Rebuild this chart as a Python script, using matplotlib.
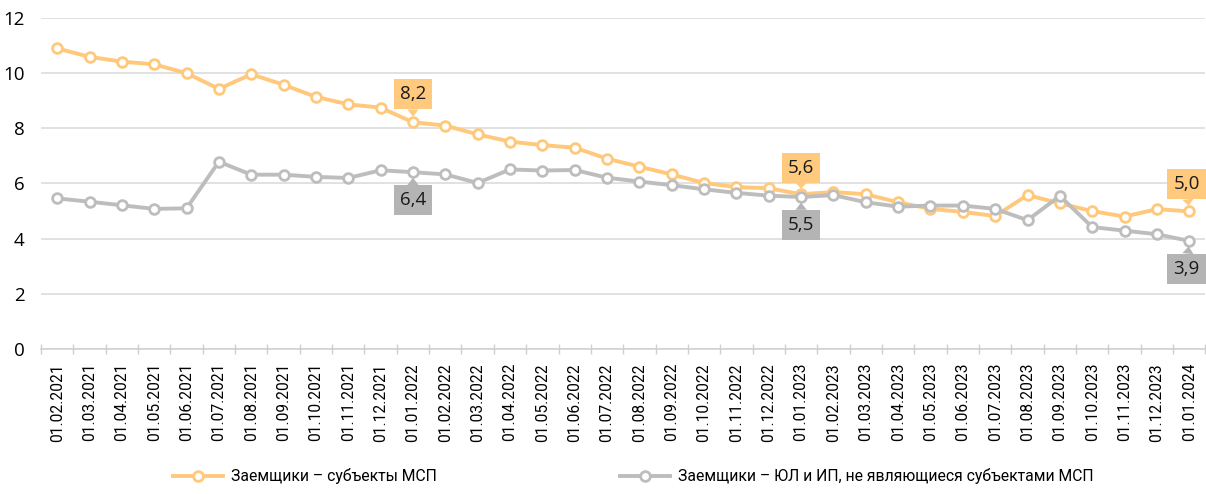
import matplotlib
matplotlib.use("Agg")
import matplotlib.pyplot as plt
import numpy as np

dates = ["01.02.2021", "01.03.2021", "01.04.2021", "01.05.2021", "01.06.2021", "01.07.2021",
         "01.08.2021", "01.09.2021", "01.10.2021", "01.11.2021", "01.12.2021", "01.01.2022",
         "01.02.2022", "01.03.2022", "01.04.2022", "01.05.2022", "01.06.2022", "01.07.2022",
         "01.08.2022", "01.09.2022", "01.10.2022", "01.11.2022", "01.12.2022", "01.01.2023",
         "01.02.2023", "01.03.2023", "01.04.2023", "01.05.2023", "01.06.2023", "01.07.2023",
         "01.08.2023", "01.09.2023", "01.10.2023", "01.11.2023", "01.12.2023", "01.01.2024"]

msp = [10.90, 10.59, 10.42, 10.32, 10.00, 9.43, 9.96, 9.58, 9.14, 8.87, 8.75, 8.22,
       8.10, 7.78, 7.52, 7.39, 7.30, 6.90, 6.61, 6.33, 6.02, 5.87, 5.83, 5.61,
       5.69, 5.61, 5.32, 5.08, 4.97, 4.82, 5.58, 5.28, 5.00, 4.80, 5.07, 4.99]

non_msp = [5.46, 5.34, 5.21, 5.08, 5.10, 6.79, 6.32, 6.32, 6.24, 6.20, 6.48, 6.41,
           6.33, 6.02, 6.51, 6.47, 6.49, 6.21, 6.07, 5.94, 5.79, 5.66, 5.56, 5.51,
           5.58, 5.32, 5.16, 5.20, 5.20, 5.08, 4.67, 5.55, 4.42, 4.29, 4.16, 3.92]

series_names = ["Заемщики – субъекты МСП", "Заемщики – ЮЛ и ИП, не являющиеся субъектами МСП"]
label_idx = [11, 23, 35]
msp_labels = ["8,2", "5,6", "5,0"]
non_labels = ["6,4", "5,5", "3,9"]
yticks = [0, 2, 4, 6, 8, 10, 12]

c_or = "#FFC87A"
c_gr = "#BDBDBD"
c_box_or = "#FFC97E"
c_box_gr = "#B4B4B4"

fig = plt.figure(figsize=(12.06, 4.94), dpi=100)
ax = fig.add_axes([41/1206, 1-349/494, 1-41/1206 - 0.0005, (349-18)/494])

x = np.arange(len(dates))
ax.plot(x, msp, color=c_or, lw=2.8, marker="o", ms=7, mfc="white", mec=c_or, mew=2.0,
        label=series_names[0], zorder=3)
ax.plot(x, non_msp, color=c_gr, lw=2.8, marker="o", ms=7, mfc="white", mec=c_gr, mew=2.0,
        label=series_names[1], zorder=3)

ax.set_xlim(-0.5, len(dates) - 0.5)
ax.set_ylim(0, 12)
ax.set_yticks(yticks)
ax.set_yticklabels([str(v) for v in yticks], fontsize=13.5, family="Open Sans")
ax.yaxis.grid(True, color="#D9D9D9", lw=1.1)
ax.set_axisbelow(True)
ax.tick_params(axis="y", length=0, pad=12)

ax.set_xticks(x)
ax.set_xticklabels(dates, rotation=90, fontsize=11.2, family="Roboto")
ax.set_xticks(np.arange(-0.5, len(dates), 1), minor=True)
ax.tick_params(axis="x", which="major", length=0, pad=10)
ax.tick_params(axis="x", which="minor", length=7, direction="inout", color="#CFCFCF", width=1)

for s in ["top", "right", "left"]:
    ax.spines[s].set_visible(False)
ax.spines["bottom"].set_color("#CFCFCF")
ax.spines["bottom"].set_linewidth(1.1)

offsets_up = [(0, 20), (0, 19), (-2, 19.5)]
offsets_dn = [(0, -20), (0, -20), (-2, -20)]
for i, (idx, lab) in enumerate(zip(label_idx, msp_labels)):
    ax.annotate(lab, xy=(idx, msp[idx]), xytext=offsets_up[i], textcoords="offset points",
                ha="center", va="center", fontsize=13.5, family="Open Sans", color="#1a1a1a",
                bbox=dict(boxstyle="square,pad=0.32", fc=c_box_or, ec="none"),
                arrowprops=dict(arrowstyle="wedge,tail_width=0.6", fc=c_box_or, ec="none",
                                shrinkA=0, shrinkB=4), zorder=5)
for i, (idx, lab) in enumerate(zip(label_idx, non_labels)):
    ax.annotate(lab, xy=(idx, non_msp[idx]), xytext=offsets_dn[i], textcoords="offset points",
                ha="center", va="center", fontsize=13.5, family="Open Sans", color="#1a1a1a",
                bbox=dict(boxstyle="square,pad=0.32", fc=c_box_gr, ec="none"),
                arrowprops=dict(arrowstyle="wedge,tail_width=0.6", fc=c_box_gr, ec="none",
                                shrinkA=0, shrinkB=4), zorder=5)

leg = fig.legend(loc="center", bbox_to_anchor=(0.525, 1-476/494), ncol=2, frameon=False,
                 prop={"family": "Roboto", "size": 11.3}, handlelength=3.2, handletextpad=0.5,
                 columnspacing=11.7)

fig.savefig("out.png", dpi=100)
